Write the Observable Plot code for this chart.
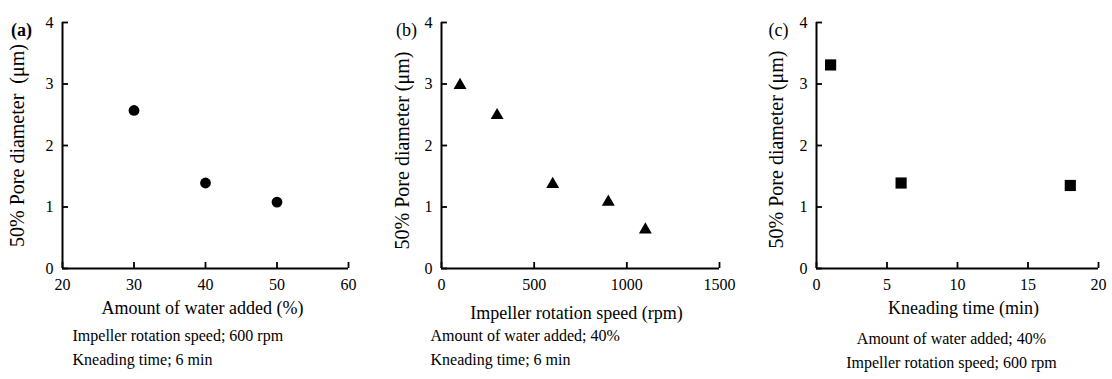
<!DOCTYPE html>
<html>
<head>
<meta charset="utf-8">
<script src="https://cdn.jsdelivr.net/npm/d3@7"></script>
<script src="https://cdn.jsdelivr.net/npm/@observablehq/plot@0.6"></script>
<style>
  html, body { margin: 0; padding: 0; background: #fff; overflow: hidden; }
  #wrap { display: flex; flex-wrap: nowrap; width: 1112px; }
  #wrap svg { flex: none; }
</style>
</head>
<body>
<div id="wrap"></div>
<script>
// ---- data ----
const yTicks = [0, 1, 2, 3, 4];
const yLabelA = "50% Pore diameter  (μm)";
const yLabelBC = "50% Pore diameter (μm)";

const waterAdded = [30, 40, 50];
const poreA = [2.57, 1.39, 1.08];
const xTicksA = [20, 30, 40, 50, 60];
const xLabelA = "Amount of water added (%)";
const notesA = ["Impeller rotation speed; 600 rpm", "Kneading time; 6 min"];

const rotationSpeed = [100, 300, 600, 900, 1100];
const poreB = [2.98, 2.49, 1.37, 1.08, 0.63];
const xTicksB = [0, 500, 1000, 1500];
const xLabelB = "Impeller rotation speed (rpm)";
const notesB = ["Amount of water added; 40%", "Kneading time; 6 min"];

const kneadingTime = [1, 6, 18];
const poreC = [3.31, 1.39, 1.35];
const xTicksC = [0, 5, 10, 15, 20];
const xLabelC = "Kneading time (min)";
const notesC = ["Amount of water added; 40%", "Impeller rotation speed; 600 rpm"];

function mk(c) {
  const W = c.width, H = 379, ml = c.ml, mr = c.mr, mt = 22, mb = 111;
  const fw = W - ml - mr, fh = H - mt - mb;
  const m = [];
  m.push(Plot.tickX(c.xTicks, {x: d => d, insetTop: fh - 6, stroke: "#000", strokeWidth: 1.8}));
  m.push(Plot.tickY(yTicks, {y: d => d, insetRight: fw - 6, stroke: "#000", strokeWidth: 1.8}));
  m.push(Plot.ruleY([0], {stroke: "#000", strokeWidth: 2}));
  m.push(Plot.ruleX([c.xDomain[0]], {stroke: "#000", strokeWidth: 2}));
  m.push(Plot.axisX({ticks: c.xTicks, tickSize: 0, tickPadding: 10, fontSize: 16, tickFormat: d => String(d), label: null}));
  m.push(Plot.axisY({ticks: yTicks, tickSize: 0, tickPadding: 9, fontSize: 16, tickFormat: d => String(d), label: null}));
  m.push(Plot.dot(c.xs.map((x, i) => ({x, y: c.ys[i]})), {x: "x", y: "y", symbol: c.symbol, r: c.r, fill: "#000"}));
  m.push(Plot.text([c.tag], {text: d => d, frameAnchor: "top-left", dx: c.tagDx, dy: 1, fontSize: 18, fontWeight: c.tagBold ? "bold" : "normal", textAnchor: "middle"}));
  m.push(Plot.text([c.yLabel], {text: d => d, frameAnchor: "left", rotate: -90, dx: c.yLabDx, dy: c.yLabDy, fontSize: 20, textAnchor: "middle"}));
  m.push(Plot.text([c.xLabel], {text: d => d, frameAnchor: "bottom", dx: c.xLabDx, dy: c.xLabDy, fontSize: 18, textAnchor: "middle"}));
  m.push(Plot.text([c.notes[0]], {text: d => d, frameAnchor: c.noteAnchor, textAnchor: c.noteTA, dx: c.noteDx, dy: c.noteDy[0], fontSize: 16}));
  m.push(Plot.text([c.notes[1]], {text: d => d, frameAnchor: c.noteAnchor, textAnchor: c.noteTA, dx: c.noteDx, dy: c.noteDy[1], fontSize: 16}));
  return Plot.plot({
    width: W, height: H, marginLeft: ml, marginRight: mr, marginTop: mt, marginBottom: mb,
    style: {fontFamily: "Liberation Serif", fontSize: "16px"},
    x: {domain: c.xDomain, ticks: c.xTicks, label: null},
    y: {domain: [0, 4], ticks: yTicks, label: null},
    marks: m
  });
}

const panels = [
  {width: 370, ml: 62, mr: 22, xDomain: [20, 60], xTicks: xTicksA, xs: waterAdded, ys: poreA,
   symbol: "circle", r: 5.4, tag: "(a)", tagBold: true, tagDx: -41, yLabel: yLabelA, yLabDx: -45, yLabDy: 0,
   xLabel: xLabelA, xLabDx: -3, xLabDy: 45, notes: notesA, noteAnchor: "bottom-left", noteTA: "start", noteDx: 10, noteDy: [72, 96]},
  {width: 370, ml: 71, mr: 21, xDomain: [0, 1500], xTicks: xTicksB, xs: rotationSpeed, ys: poreB,
   symbol: "triangle", r: 4.8, tag: "(b)", tagBold: false, tagDx: -35, yLabel: yLabelBC, yLabDx: -39, yLabDy: 5,
   xLabel: xLabelB, xLabDx: -4, xLabDy: 50, notes: notesB, noteAnchor: "bottom-left", noteTA: "start", noteDx: -11, noteDy: [72, 96]},
  {width: 372, ml: 76, mr: 14, xDomain: [0, 20], xTicks: xTicksC, xs: kneadingTime, ys: poreC,
   symbol: "square", r: 6.3, tag: "(c)", tagBold: false, tagDx: -38, yLabel: yLabelBC, yLabDx: -40, yLabDy: 4,
   xLabel: xLabelC, xLabDx: 6, xLabDy: 45, notes: notesC, noteAnchor: "bottom", noteTA: "middle", noteDx: -6, noteDy: [75, 99]}
];

const wrap = document.getElementById("wrap");
for (const c of panels) wrap.appendChild(mk(c));
</script>
</body>
</html>
